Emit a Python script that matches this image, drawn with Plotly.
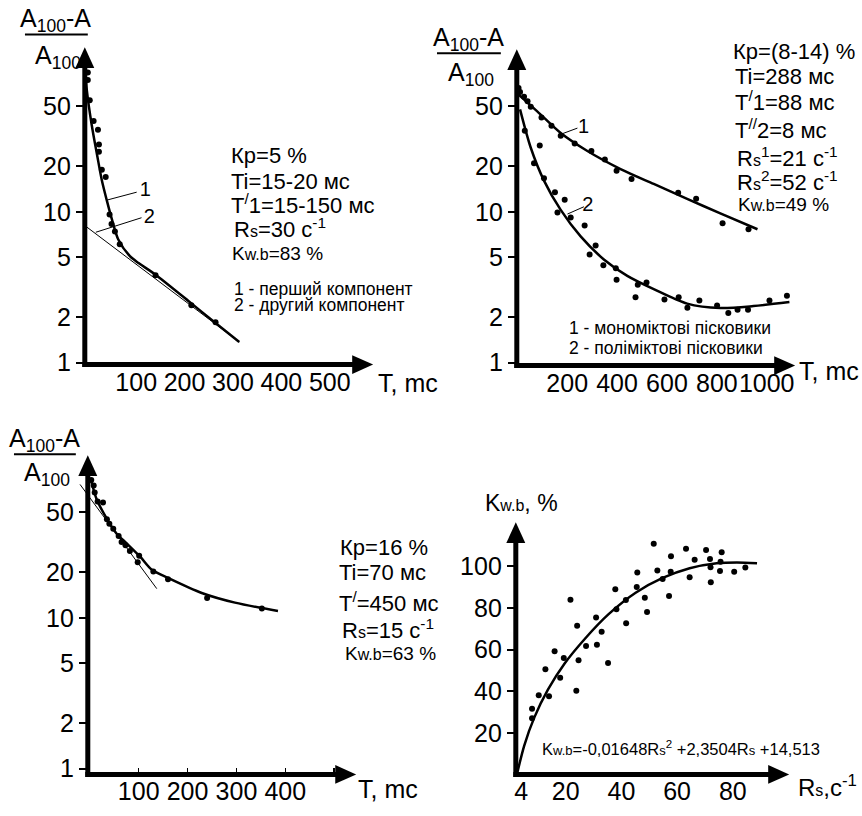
import plotly.graph_objects as go

W, H = 862, 816
FONT = "Liberation Sans, Arial, sans-serif"

# ---------------- data ----------------
# Panel 1 (Kp = 5 %)
p1_pts_t = [0, 0, 4, 12, 21, 23, 23, 29, 37, 45, 49, 56, 66, 140, 214, 264]
p1_pts_v = [84, 75, 55, 40, 35, 28, 25, 19, 17, 9.6, 8.3, 7.4, 6.1, 3.8, 2.4, 1.85]
p1_fit1_t = [-4, -2, 8, 19, 29, 39, 50, 63, 87, 105, 138, 214, 262, 313]
p1_fit1_v = [76, 64, 37.8, 24, 16.2, 12, 8.87, 6.56, 5.08, 4.57, 3.87, 2.47, 1.85, 1.37]
p1_fit2_t = [-6, 313]
p1_fit2_v = [8.1, 1.37]
p1_lead1_t, p1_lead1_v = [41, 101], [12.0, 13.5]
p1_lead2_t, p1_lead2_v = [16.5, 111], [7.32, 9.14]
p1_lab_t, p1_lab_v, p1_lab = [119, 127], [13.65, 9.14], ["1", "2"]

# Panel 2 (Kp = 8-14 %)
p2_mono_t = [5, 11, 27, 41, 54, 97, 137, 174, 230, 297, 351, 398, 458, 645, 717, 823, 927]
p2_mono_v = [66.3, 62.4, 57.9, 54.2, 49.8, 42.2, 37.2, 32.0, 28.4, 25.3, 22.2, 18.7, 16.5, 13.4, 12.2, 8.4, 7.66]
p2_mono_fit_t = [-3, 81, 174, 281, 414, 547, 681, 814, 963]
p2_mono_fit_v = [61.5, 46.2, 33.3, 25.3, 19.2, 15.3, 12.2, 9.75, 7.66]
p2_poly_t = [30, 67, 90, 107, 151, 161, 190, 214, 270, 290, 314, 345, 395, 398, 474, 483, 518,
             590, 647, 682, 730, 801, 846, 883, 925, 1011, 1081]
p2_poly_v = [34.5, 21.0, 27.5, 16.7, 13.5, 9.9, 12.0, 9.18, 8.1, 5.21, 5.97, 4.42, 4.23, 3.54, 2.71, 3.28, 3.40,
             2.62, 2.71, 2.31, 2.58, 2.39, 2.13, 2.24, 2.24, 2.58, 2.78]
p2_poly_fit_t = [11, 54, 107, 174, 254, 347, 441, 547, 681, 814, 947, 1091]
p2_poly_fit_v = [47.8, 26.6, 16.1, 10.3, 6.87, 4.83, 3.76, 3.07, 2.46, 2.30, 2.37, 2.52]
p2_lead1_t, p2_lead1_v = [171, 241], [32.5, 35.9]
p2_lead2_t, p2_lead2_v = [201, 267], [9.66, 10.8]
p2_lab_t, p2_lab_v, p2_lab = [266, 283], [36.0, 10.9], ["1", "2"]

# Panel 3 (Kp = 16 %)
p3_pts_t = [3, 8, 10, 16, 27, 35, 40, 48, 59, 65, 73, 82, 101, 98, 130, 160, 240, 352]
p3_pts_v = [81.9, 75.5, 67.6, 59.1, 58.2, 45.0, 42.0, 38.9, 34.9, 31.8, 30.3, 27.7, 25.8, 23.3, 20.3, 18.0, 13.5, 11.5]
p3_fit_t = [3, 14, 35, 55, 76, 103, 127, 161, 229, 297, 385]
p3_fit_v = [80.7, 61.1, 45.3, 36.1, 31.0, 25.4, 20.8, 18.3, 14.6, 12.6, 11.1]
p3_tan_t = [-20, 137]
p3_tan_v = [76.6, 15.6]

# Panel 4 (Kw.b vs Rs)
p4_rs = [7.9, 7.9, 10.3, 12.7, 14.0, 16.0, 18.0, 19.3, 21.7, 23.8, 24.1, 24.6, 27.3, 30.9, 31.2, 32.9, 35.2,
         37.8, 38.2, 41.6, 41.7, 45.5, 45.7, 48.4, 49.2, 51.6, 52.9, 54.8, 57.1, 57.7, 57.8, 63.2, 64.5, 66.3,
         70.4, 71.8, 72.0, 72.1, 75.4, 75.6, 76.0, 80.5, 84.5]
p4_kwb = [31.6, 27.0, 38.0, 50.5, 37.6, 59.2, 46.5, 56.0, 83.9, 40.2, 71.5, 54.9, 61.7, 75.4, 62.3, 68.6, 53.6,
          89.0, 79.4, 83.8, 72.7, 90.1, 97.0, 84.9, 78.1, 110.9, 98.0, 93.9, 85.7, 97.4, 104.8, 108.4, 94.8, 103.2,
          107.9, 103.5, 99.6, 92.3, 97.8, 102.2, 106.8, 97.4, 99.4]
p4_fit_rs = [2.7, 5.1, 8.7, 13.6, 19.6, 26.9, 35.4, 45.1, 54.8, 64.5, 74.2, 81.5, 88.7]
p4_fit_kwb = [1.3, 13.9, 27.3, 40.7, 53.3, 65.2, 77.0, 87.3, 94.4, 99.1, 101.5, 101.9, 101.5]

log_ticks = [1, 2, 5, 10, 20, 50]
p1_xticks = [100, 200, 300, 400, 500]
p2_xticks = [200, 400, 600, 800, 1000]
p3_xticks = [100, 200, 300, 400, 500]
p3_xtext = ["100", "200", "300", "400", ""]
p4_xticks = [4, 20, 40, 60, 80]
p4_yticks = [20, 40, 60, 80, 100]


# ---------------- helpers ----------------
def px(x):
    return x / W


def py(y):
    return 1 - y / H


fig = go.Figure()

DOT = dict(color="black", size=6)


def pts(x, y, ax):
    fig.add_trace(go.Scatter(x=x, y=y, mode="markers", marker=DOT, cliponaxis=False,
                             xaxis="x" + ax, yaxis="y" + ax, showlegend=False, hoverinfo="skip"))


def line(x, y, ax, w=2.5, shape="spline"):
    fig.add_trace(go.Scatter(x=x, y=y, mode="lines", line=dict(color="black", width=w, shape=shape, smoothing=0.8),
                             xaxis="x" + ax, yaxis="y" + ax, showlegend=False, hoverinfo="skip"))


def labels(x, y, t, ax):
    fig.add_trace(go.Scatter(x=x, y=y, mode="text", text=t, textposition="middle center",
                             textfont=dict(family=FONT, size=20, color="black"), cliponaxis=False,
                             xaxis="x" + ax, yaxis="y" + ax, showlegend=False, hoverinfo="skip"))


# Panel 1
line(p1_fit2_t, p1_fit2_v, "", w=1, shape="linear")
line(p1_fit1_t, p1_fit1_v, "")
pts(p1_pts_t, p1_pts_v, "")
line(p1_lead1_t, p1_lead1_v, "", w=1, shape="linear")
line(p1_lead2_t, p1_lead2_v, "", w=1, shape="linear")
labels(p1_lab_t, p1_lab_v, p1_lab, "")

# Panel 2
line(p2_mono_fit_t, p2_mono_fit_v, "2")
line(p2_poly_fit_t, p2_poly_fit_v, "2")
pts(p2_mono_t, p2_mono_v, "2")
pts(p2_poly_t, p2_poly_v, "2")
line(p2_lead1_t, p2_lead1_v, "2", w=1, shape="linear")
line(p2_lead2_t, p2_lead2_v, "2", w=1, shape="linear")
labels(p2_lab_t, p2_lab_v, p2_lab, "2")

# Panel 3
line(p3_tan_t, p3_tan_v, "3", w=1, shape="linear")
line(p3_fit_t, p3_fit_v, "3")
pts(p3_pts_t, p3_pts_v, "3")

# Panel 4
line(p4_fit_rs, p4_fit_kwb, "4")
pts(p4_rs, p4_kwb, "4")

TICKFONT = dict(family=FONT, size=25, color="black")


def xax(dom, rng, ticks, text=None, anchor="y", inside=False, typ="linear"):
    d = dict(domain=[px(dom[0]), px(dom[1])], range=rng, anchor=anchor, type=typ,
             tickmode="array", tickvals=ticks, ticktext=text if text else [str(t) for t in ticks],
             showline=False, showgrid=False, zeroline=False, tickfont=TICKFONT, tickangle=0,
             ticks="inside" if inside else "", ticklen=6, tickwidth=1.5, tickcolor="black",
             ticklabelstandoff=0, fixedrange=True)
    return d


def yax(dom, rng, ticks, pos, typ="log"):
    return dict(domain=[py(dom[0]), py(dom[1])], range=rng, anchor="free", position=px(pos), type=typ,
                tickmode="array", tickvals=ticks, ticktext=[str(t) for t in ticks],
                showline=False, showgrid=False, zeroline=False, tickfont=TICKFONT, tickangle=0,
                ticks="outside", ticklen=9, tickwidth=2, tickcolor="black", fixedrange=True)


fig.update_layout(
    width=W, height=H, margin=dict(l=0, r=0, t=0, b=0),
    paper_bgcolor="white", plot_bgcolor="rgba(0,0,0,0)",
    font=dict(family=FONT, color="black"),
    xaxis=xax((83, 372), [-6.2, 589.7], p1_xticks),
    yaxis=yax((370, 48), [-0.0131, 2.0915], log_ticks, 83),
    xaxis2=xax((512, 795), [-18, 1114], p2_xticks, anchor="y2"),
    yaxis2=yax((371, 50), [-0.0196, 2.078], log_ticks, 516),
    xaxis3=xax((76, 356), [-24.5, 547], p3_xticks, p3_xtext, anchor="y3", inside=True),
    yaxis3=yax((786, 462), [-0.039, 2.078], log_ticks, 86),
    xaxis4=xax((515, 790), [2.07, 100.6], p4_xticks, anchor="y4"),
    yaxis4=yax((786, 530), [0, 121.2], p4_yticks, 515, typ="linear"),
)

# ---------------- axes with arrows ----------------
shapes = []
AW = 5


def axis_pair(x0, y0, ytip, xtip, L=21, hw=9.5):
    shapes.append(dict(type="line", xref="paper", yref="paper", x0=px(x0), x1=px(x0),
                       y0=py(y0 + AW / 2), y1=py(ytip + L - 1), line=dict(color="black", width=AW)))
    shapes.append(dict(type="line", xref="paper", yref="paper", x0=px(x0 - AW / 2), x1=px(xtip - L + 1),
                       y0=py(y0), y1=py(y0), line=dict(color="black", width=AW)))
    shapes.append(dict(type="path", xref="paper", yref="paper", fillcolor="black", line=dict(width=0),
                       path=f"M {px(x0 - hw)},{py(ytip + L)} L {px(x0)},{py(ytip)} L {px(x0 + hw)},{py(ytip + L)} Z"))
    shapes.append(dict(type="path", xref="paper", yref="paper", fillcolor="black", line=dict(width=0),
                       path=f"M {px(xtip - L)},{py(y0 - hw)} L {px(xtip)},{py(y0)} L {px(xtip - L)},{py(y0 + hw)} Z"))


axis_pair(83, 370, 48, 372)
axis_pair(516, 371, 50, 795)
axis_pair(86, 786, 462, 355)
axis_pair(515, 786, 530, 789)


def bar(x0, x1, y):
    shapes.append(dict(type="line", xref="paper", yref="paper", x0=px(x0), x1=px(x1), y0=py(y), y1=py(y),
                       line=dict(color="black", width=2)))


bar(23, 86, 35)
bar(436, 500, 54)
bar(12, 74, 461)
fig.update_layout(shapes=shapes)

# ---------------- text ----------------
anns = []


def ann(text, x, y, size=20, xanchor="left", yanchor="middle"):
    anns.append(dict(text=text, x=px(x), y=py(y), xref="paper", yref="paper", showarrow=False,
                     xanchor=xanchor, yanchor=yanchor, borderpad=0,
                     font=dict(family=FONT, size=size, color="black")))


SM = "<span style='font-size:16px'>"
SM2 = "<span style='font-size:13px'>"
E = "</span>"

# Y axis titles (fractions)
for cx, bar_y, den_top in [(54, 35, 41), (468, 54, 58), (43, 461, 464)]:
    ann("A<sub>100</sub>-A", cx, bar_y + 3, 25, "center", "bottom")
    ann("A<sub>100</sub>", cx + 2, den_top, 25, "center", "top")

ann("T, mc", 376, 389, 25)
ann("T, mc", 860, 377, 25, xanchor="right")
ann("T, mc", 356, 801, 25)
ann("K" + SM + "w.b" + E + ", %", 483, 511, 23)
ann("R" + SM + "s" + E + ",c<sup>-1</sup>", 858, 798, 24, xanchor="right")

TB = 22
# Panel 1 text block
ann("Кр=5 %", 229, 158, TB)
ann("Ti=15-20 мс", 229, 184, TB)
ann("T<sup>/</sup>1=15-150 мс", 229, 207, TB)
ann("R" + SM + "s" + E + "=30 c<sup>-1</sup>", 232, 231, TB)
ann("K" + SM + "w.b" + E + "=83 %", 230, 257, 19)
ann("1 - перший компонент", 232, 293, 17.5)
ann("2 - другий компонент", 232, 310, 17.5)

# Panel 2 text block
ann("Кр=(8-14) %", 732, 52, TB)
ann("Ti=288 мс", 734, 78, TB)
ann("T<sup>/</sup>1=88 мс", 734, 102, TB)
ann("T<sup>//</sup>2=8 мс", 734, 131, TB)
ann("R" + SM + "s" + E + "<sup>1</sup>=21 c<sup>-1</sup>", 736, 159, TB)
ann("R" + SM + "s" + E + "<sup>2</sup>=52 c<sup>-1</sup>", 736, 184, TB)
ann("K" + SM + "w.b" + E + "=49 %", 737, 208, 19)
ann("1 - мономіктові пісковики", 567, 333, 17.5)
ann("2 - поліміктові пісковики", 567, 353, 17.5)

# Panel 3 text block
ann("Кр=16 %", 338, 556, TB)
ann("Ti=70 мс", 337, 581, TB)
ann("T<sup>/</sup>=450 мс", 337, 611, TB)
ann("R" + SM + "s" + E + "=15 c<sup>-1</sup>", 340, 638, TB)
ann("K" + SM + "w.b" + E + "=63 %", 343, 663, 19)

# Panel 4 equation
ann("K" + SM2 + "w.b" + E + "=-0,01648R" + SM2 + "s" + E + "<sup>2</sup> +2,3504R" + SM2 + "s" + E + " +14,513",
    540, 759, 16.5)

fig.update_layout(annotations=anns)

fig.write_html("out.html", config={"displayModeBar": False, "staticPlot": True},
               post_script="document.body.style.margin='0';document.body.style.padding='0';"
                           "document.body.style.overflow='hidden';")
